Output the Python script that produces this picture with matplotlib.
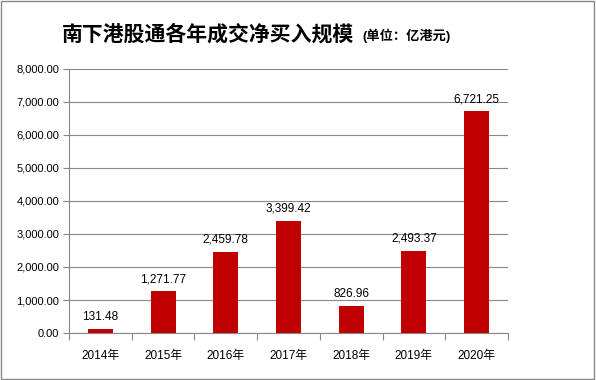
import numpy as np
import matplotlib
matplotlib.use('Agg')
import matplotlib.pyplot as plt
from matplotlib.patches import Rectangle

plt.rcParams['font.family'] = ['Liberation Sans', 'Noto Sans CJK SC', 'DejaVu Sans']

## data
years = ['2014年', '2015年', '2016年', '2017年', '2018年', '2019年', '2020年']
values = [131.48, 1271.77, 2459.78, 3399.42, 826.96, 2493.37, 6721.25]
yticks = np.arange(0, 8001, 1000)

fig = plt.figure(figsize=(5.96, 3.80), dpi=100)
ax = fig.add_axes([69/596, 1-333/380, (508-69)/596, (333-69)/380])

x = np.arange(len(years))
ax.bar(x, values, width=0.4, color='#c00000', zorder=3)
for xi, v in zip(x, values):
    ax.text(xi, v + 180, '{:,.2f}'.format(v), ha='center', va='bottom', fontsize=8.5)

ax.set_xlim(-0.5, len(years) - 0.5)
ax.set_ylim(0, 8000)
ax.set_yticks(yticks)
ax.set_yticklabels(['{:,.2f}'.format(t) for t in yticks], fontsize=8)
ax.yaxis.grid(True, color='#888888', linewidth=0.8, zorder=0)

# category ticks sit on boundaries, labels in centres
ax.set_xticks(np.arange(-0.5, len(years)), minor=False)
ax.set_xticklabels([])
ax.set_xticks(x, minor=True)
ax.set_xticklabels(years, minor=True, fontsize=8.5)
ax.tick_params(axis='x', which='major', length=5, color='#888888')
ax.tick_params(axis='x', which='minor', length=0, pad=12)
ax.tick_params(axis='y', length=4, color='#888888', pad=3)

for side in ['top', 'right']:
    ax.spines[side].set_visible(False)
for side in ['left', 'bottom']:
    ax.spines[side].set_color('#888888')

fig.text(62/596, 1-34/380, '南下港股通各年成交净买入规模', fontsize=15,
         fontweight='bold', va='center', ha='left')
fig.text(362/596, 1-36/380, '(单位：亿港元)', fontsize=9.5,
         fontweight='bold', va='center', ha='left')

# outer frame
fig.patches.append(Rectangle((0.002, 0.003), 0.995, 0.994, transform=fig.transFigure,
                             fill=False, edgecolor='#888888', linewidth=1))

fig.savefig('out.png', dpi=100)
